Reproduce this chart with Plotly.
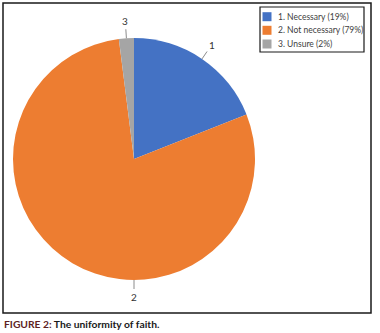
import math
import plotly.graph_objects as go

# ---- data ----
legend_labels = ["1. Necessary (19%)", "2. Not necessary (79%)", "3. Unsure (2%)"]
slice_labels = ["1", "2", "3"]
values = [19, 79, 2]
colors = ["#4472C4", "#ED7D31", "#A5A5A5"]
caption_prefix = "FIGURE 2:"
caption_text = "The uniformity of faith."

W, H = 380, 333


def px(x):
    return x / W


def py(y):
    return 1 - y / H


# pie placement (pixels)
cx, cy, r = 134, 159, 121

fig = go.Figure()
fig.add_trace(go.Pie(
    labels=legend_labels,
    values=values,
    marker=dict(colors=colors, line=dict(width=0)),
    sort=False,
    direction="clockwise",
    rotation=0,
    textinfo="none",
    hoverinfo="label+value",
    showlegend=False,
    domain=dict(x=[px(cx - r), px(cx + r)], y=[py(cy + r), py(cy - r)]),
))

shapes = []
annotations = []

# frame
shapes.append(dict(type="rect", xref="paper", yref="paper",
                   x0=px(3), x1=px(371), y0=py(313), y1=py(3),
                   line=dict(color="#1a1a1a", width=1.5)))

# slice labels with leader lines (angle from the data; slice 2 placed at bottom as in Excel)
label_angle_override = {1: 180.0}
total = sum(values)
cum = 0
for i, v in enumerate(values):
    mid = 360.0 * (cum + v / 2) / total
    cum += v
    ang = label_angle_override.get(i, mid)
    t = math.radians(ang)
    sx, sy = math.sin(t), -math.cos(t)
    shapes.append(dict(type="line", xref="paper", yref="paper",
                       x0=px(cx + r * sx), y0=py(cy + r * sy),
                       x1=px(cx + (r + 9) * sx), y1=py(cy + (r + 9) * sy),
                       line=dict(color="#8c8c8c", width=1)))
    annotations.append(dict(xref="paper", yref="paper",
                            x=px(cx + (r + 17) * sx), y=py(cy + (r + 17) * sy),
                            text=slice_labels[i], showarrow=False,
                            xanchor="center", yanchor="middle",
                            font=dict(family="Lato, Open Sans, sans-serif", size=10, color="#333333")))

# legend (manual, to match the compact Excel legend)
shapes.append(dict(type="rect", xref="paper", yref="paper",
                   x0=px(260), x1=px(364), y0=py(52), y1=py(7),
                   line=dict(color="#1a1a1a", width=1.2)))
row_y = [16.7, 30.3, 44.0]
for i, lab in enumerate(legend_labels):
    yc = row_y[i]
    shapes.append(dict(type="rect", xref="paper", yref="paper",
                       x0=px(262.5), x1=px(271.5), y0=py(yc + 4.5), y1=py(yc - 4.5),
                       fillcolor=colors[i], line=dict(width=0)))
    annotations.append(dict(xref="paper", yref="paper", x=px(276), y=py(yc),
                            text=lab, showarrow=False, xanchor="left", yanchor="middle",
                            font=dict(family="Lato, Open Sans, sans-serif", size=8.5, color="#404040")))

# caption
annotations.append(dict(xref="paper", yref="paper", x=px(2), y=py(323.5),
                        text=f"<b><span style='color:#5e1f1f'>{caption_prefix}</span> {caption_text}</b>",
                        showarrow=False, xanchor="left", yanchor="middle",
                        font=dict(family="Lato, Open Sans, sans-serif", size=10.3, color="#1a1a1a")))

fig.update_layout(
    width=W, height=H,
    margin=dict(l=0, r=0, t=0, b=0),
    paper_bgcolor="white",
    plot_bgcolor="white",
    shapes=shapes,
    annotations=annotations,
    showlegend=False,
)

fig.write_html("out.html",
               config={"displayModeBar": False},
               post_script="document.body.style.margin='0px';document.body.style.overflow='hidden';")
